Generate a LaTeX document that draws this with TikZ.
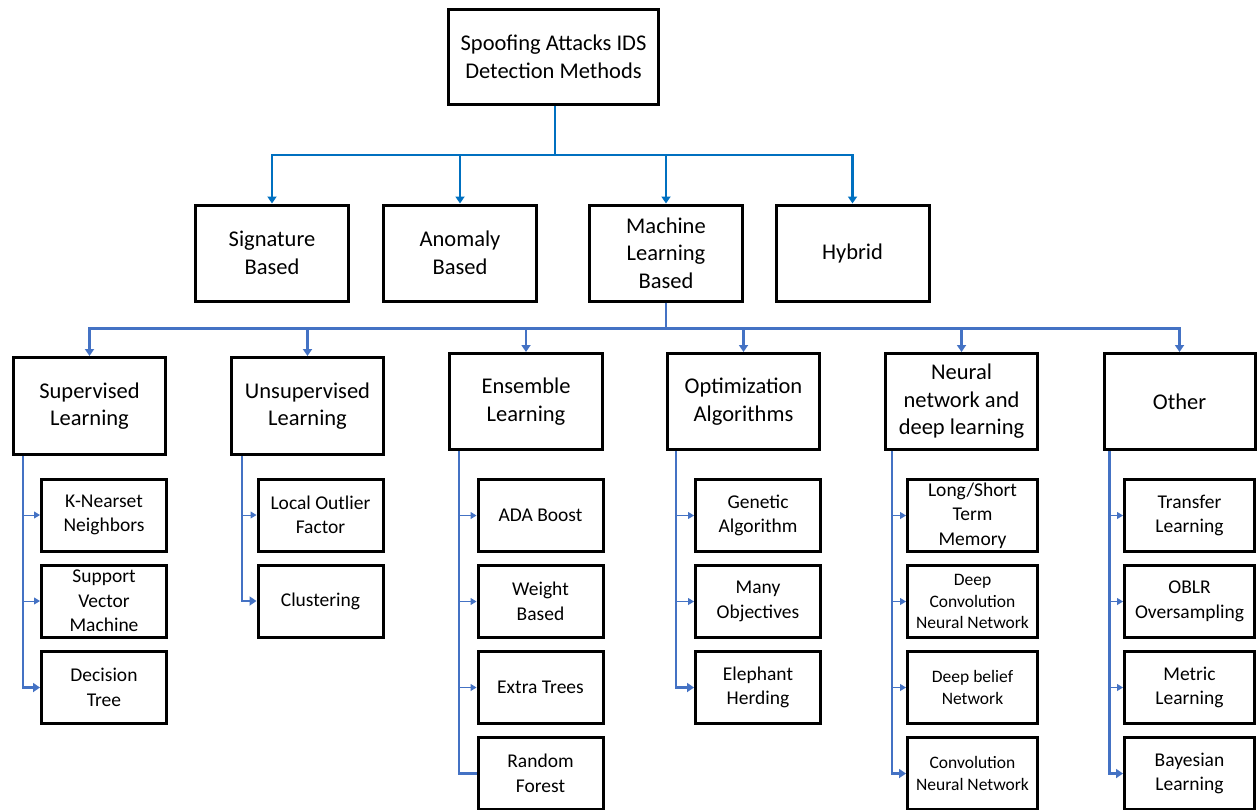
\documentclass[tikz,border=0pt]{standalone}
\usepackage{fontspec}
\setmainfont{Carlito}
\usetikzlibrary{arrows.meta}
\definecolor{cone}{RGB}{0,112,192}
\definecolor{ctwo}{RGB}{68,114,196}
\newcommand\fa{\fontsize{22.5}{27.5}\selectfont}
\newcommand\fb{\fontsize{19.5}{24.5}\selectfont}
\newcommand\fc{\fontsize{17.5}{21.5}\selectfont}
\tikzset{
  box/.style={draw=black, line width=3pt, inner sep=0pt, align=center, fill=white},
  bigbox/.style={box, minimum width=153pt, minimum height=96pt, font=\fa},
  rootbox/.style={box, minimum width=210pt, minimum height=95pt, font=\fa},
  leaf/.style={box, minimum width=125pt, minimum height=72pt, font=\fb},
  wleaf/.style={box, minimum width=130pt, minimum height=72pt, font=\fb},
  conone/.style={draw=cone, line width=2.5pt, -{Triangle[width=9pt,length=7pt]}},
  contwo/.style={draw=ctwo, line width=2.5pt, -{Triangle[width=9pt,length=7pt]}},
  trunk/.style={draw=ctwo, line width=2.5pt},
  thinbr/.style={draw=ctwo, line width=1pt, -{Triangle[width=7pt,length=6pt]}},
}
\begin{document}
\begin{tikzpicture}[x=1pt,y=-1pt]
\useasboundingbox (0,0) rectangle (1257,809);
\clip (0,0) rectangle (1257,809);
% root and level 1
\node[rootbox] (root) at (553.5,57) {Spoofing Attacks IDS\\Detection Methods};
\node[bigbox] (sig) at (272,253) {Signature\\Based};
\node[bigbox] (ano) at (460,253) {Anomaly\\Based};
\node[bigbox] (ml)  at (666,253) {Machine\\Learning\\Based};
\node[bigbox] (hyb) at (852.5,253) {Hybrid};
% level 2
\node[bigbox, minimum width=152pt, minimum height=97pt] (sup) at (89.5,406) {Supervised\\Learning};
\node[bigbox, minimum width=152pt, minimum height=97pt] (uns) at (307.5,406) {Unsupervised\\Learning};
\node[bigbox, minimum width=153pt, minimum height=96pt] (ens) at (526,401.5) {Ensemble\\Learning};
\node[bigbox, minimum width=152pt, minimum height=96pt] (opt) at (743.5,401.5) {Optimization\\Algorithms};
\node[bigbox, minimum width=152pt, minimum height=96pt] (nn)  at (961.5,401.5) {Neural\\network and\\deep learning};
\node[bigbox, minimum width=151pt, minimum height=96pt] (oth) at (1179.5,401.5) {Other};
% leaves: supervised
\node[leaf] (knn) at (104,515) {K-Nearset\\Neighbors};
\node[leaf] (svm) at (104,601) {Support\\Vector\\Machine};
\node[leaf] (dt)  at (104,687.5) {Decision\\Tree};
% unsupervised
\node[leaf] (lof) at (320.5,515) {Local Outlier\\Factor};
\node[leaf] (clu) at (320.5,601) {Clustering};
% ensemble
\node[leaf] (ada) at (540.5,515.5) {ADA Boost};
\node[leaf] (wb)  at (540.5,601.5) {Weight\\Based};
\node[leaf] (et)  at (540.5,687.5) {Extra Trees};
\node[leaf] (rf)  at (540.5,773.5) {Random\\Forest};
% optimization
\node[leaf] (ga)  at (758,515.5) {Genetic\\Algorithm};
\node[leaf] (mo)  at (758,601.5) {Many\\Objectives};
\node[leaf] (eh)  at (758,687.5) {Elephant\\Herding};
% neural
\node[wleaf] (lstm) at (972.5,515.5) {Long/Short\\Term\\Memory};
\node[wleaf, font=\fc] (dcnn) at (972.5,601.5) {Deep\\Convolution\\Neural Network};
\node[wleaf, font=\fc] (dbn)  at (972.5,687.5) {Deep belief\\Network};
\node[wleaf, font=\fc] (cnn)  at (972.5,773.5) {Convolution\\Neural Network};
% other
\node[wleaf] (tl)  at (1189.5,515.5) {Transfer\\Learning};
\node[wleaf] (ob)  at (1189.5,601.5) {OBLR\\Oversampling};
\node[wleaf] (ml2) at (1189.5,687.5) {Metric\\Learning};
\node[wleaf] (bl)  at (1189.5,773.5) {Bayesian\\Learning};
% bus levels
\coordinate (hone) at (0,155);
\coordinate (htwo) at (0,328.5);
\draw[draw=cone, line width=2.5pt] ([xshift=1.5pt]root.south) -- ([xshift=1.5pt]root.south |- hone);
\foreach \n in {sig,ano,ml,hyb} \draw[conone] ([xshift=1.5pt]root.south |- hone) -| (\n.north);
\draw[trunk] (ml.south) -- (ml.south |- htwo);
\foreach \n in {sup,uns,ens,opt,nn,oth} \draw[contwo] (ml.south |- htwo) -| (\n.north);
% trunks
\coordinate (tsup) at ([xshift=11pt]sup.south west);
\coordinate (tuns) at ([xshift=12pt]uns.south west);
\coordinate (tens) at ([xshift=11pt]ens.south west);
\coordinate (topt) at ([xshift=10pt]opt.south west);
\coordinate (tnn)  at ([xshift=8pt]nn.south west);
\coordinate (toth) at ([xshift=7pt]oth.south west);
\draw[contwo] (tsup) |- (dt.west);
\draw[thinbr] (tsup |- knn.west) -- (knn.west);
\draw[thinbr] (tsup |- svm.west) -- (svm.west);
\draw[contwo] (tuns) |- (clu.west);
\draw[thinbr] (tuns |- lof.west) -- (lof.west);
\draw[trunk] (tens) |- (rf.west);
\draw[thinbr] (tens |- ada.west) -- (ada.west);
\draw[thinbr] (tens |- wb.west) -- (wb.west);
\draw[thinbr] (tens |- et.west) -- (et.west);
\draw[contwo] (topt) |- (eh.west);
\draw[thinbr] (topt |- ga.west) -- (ga.west);
\draw[thinbr] (topt |- mo.west) -- (mo.west);
\draw[contwo] (tnn) |- (cnn.west);
\draw[thinbr] (tnn |- lstm.west) -- (lstm.west);
\draw[thinbr] (tnn |- dcnn.west) -- (dcnn.west);
\draw[thinbr] (tnn |- dbn.west) -- (dbn.west);
\draw[contwo] (toth) |- (bl.west);
\draw[thinbr] (toth |- tl.west) -- (tl.west);
\draw[thinbr] (toth |- ob.west) -- (ob.west);
\draw[thinbr] (toth |- ml2.west) -- (ml2.west);
\end{tikzpicture}
\end{document}
